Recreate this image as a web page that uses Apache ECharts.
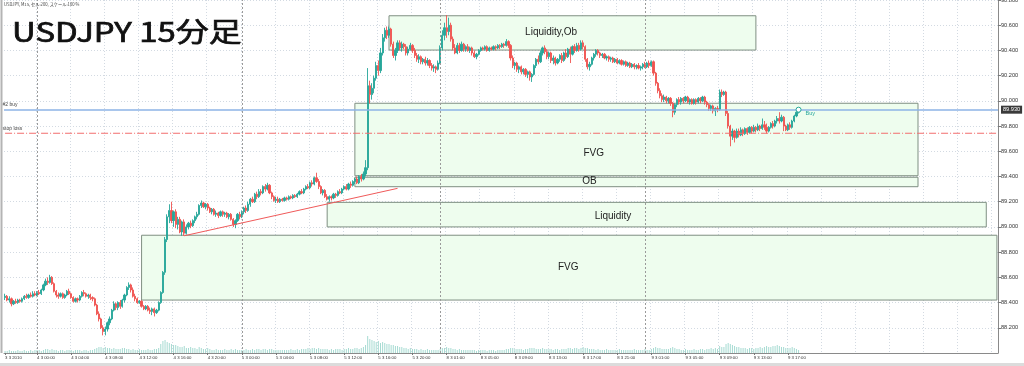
<!DOCTYPE html>
<html><head><meta charset="utf-8">
<script src="https://cdn.jsdelivr.net/npm/echarts/dist/echarts.min.js"></script>
<style>html,body{margin:0;padding:0;background:#fff}#c{width:1024px;height:366px}</style>
</head><body><div id="c"></div>
<script>
// ---- tick labels (time axis, every 16 bars from bar 15) ----
const firstLabel = '3 3 2010';
const tickLabels = ['4 3 00:00','4 3 04:00','4 3 08:00','4 3 12:00','4 3 16:00','4 3 20:00',
  '5 3 00:00','5 3 04:00','5 3 08:00','5 3 12:00','5 3 16:00','5 3 20:00',
  '8 3 01:00','8 3 05:00','8 3 09:00','8 3 13:00','8 3 17:00','8 3 21:00',
  '9 3 01:00','9 3 05:00','9 3 09:00','9 3 13:00','9 3 17:00'];
const LABEL_START = 15, LABEL_STEP = 16, N_SLOTS = 466;
const daySeparators = [15, 111, 204, 300];
const priceTicks = {min: 88.0, max: 90.8, step: 0.2};

// ---- 15-minute candles [open, close, low, high] ----
const seg1 = [
[88.44,88.45,88.42,88.47],[88.45,88.42,88.41,88.46],[88.42,88.43,88.40,88.45],[88.43,88.39,88.37,88.44],[88.39,88.41,88.38,88.42],
[88.41,88.40,88.39,88.43],[88.40,88.42,88.39,88.43],[88.42,88.41,88.40,88.43],[88.41,88.43,88.40,88.44],[88.43,88.45,88.42,88.46],
[88.45,88.44,88.43,88.47],[88.44,88.46,88.43,88.47],[88.46,88.45,88.44,88.48],[88.45,88.47,88.44,88.49],[88.47,88.46,88.45,88.49]];
const seg2 = [
[88.46,88.48,88.45,88.49],[88.48,88.47,88.46,88.50],[88.47,88.50,88.46,88.51],[88.50,88.54,88.49,88.55],[88.54,88.57,88.53,88.59],[88.57,88.56,88.54,88.60],[88.56,88.60,88.55,88.62],[88.60,88.55,88.54,88.61],[88.55,88.49,88.48,88.56],[88.49,88.46,88.44,88.50],
[88.46,88.45,88.43,88.48],[88.45,88.47,88.44,88.48],[88.47,88.44,88.43,88.48],[88.44,88.46,88.43,88.47],[88.46,88.49,88.45,88.50],[88.49,88.47,88.46,88.51],[88.47,88.44,88.43,88.48],[88.44,88.41,88.40,88.45],[88.41,88.43,88.40,88.44],[88.43,88.42,88.40,88.44],
[88.42,88.45,88.41,88.46],[88.45,88.48,88.44,88.49],[88.48,88.47,88.45,88.50],[88.47,88.45,88.44,88.48],[88.45,88.46,88.43,88.47],[88.46,88.44,88.42,88.47],[88.44,88.43,88.41,88.45],[88.43,88.38,88.37,88.44],[88.38,88.31,88.30,88.39],[88.31,88.27,88.25,88.33],
[88.27,88.20,88.19,88.28],[88.20,88.17,88.14,88.22],[88.17,88.19,88.14,88.21],[88.19,88.24,88.17,88.25],[88.24,88.27,88.22,88.29],[88.27,88.34,88.26,88.35],[88.34,88.39,88.33,88.41],[88.39,88.36,88.34,88.40],[88.36,88.40,88.34,88.41],[88.40,88.37,88.35,88.42],
[88.37,88.42,88.36,88.43],[88.42,88.46,88.40,88.47],[88.46,88.52,88.45,88.53],[88.52,88.54,88.50,88.56],[88.54,88.50,88.48,88.55],[88.50,88.45,88.44,88.52],[88.45,88.43,88.41,88.47],[88.43,88.40,88.39,88.44],[88.40,88.41,88.39,88.42],[88.41,88.37,88.36,88.42],
[88.37,88.35,88.34,88.38],[88.35,88.37,88.34,88.38],[88.37,88.34,88.33,88.38],[88.34,88.33,88.31,88.36],[88.33,88.35,88.30,88.36],[88.35,88.32,88.29,88.36],[88.32,88.34,88.31,88.35],[88.34,88.40,88.33,88.41],[88.40,88.48,88.39,88.49],[88.48,88.64,88.47,88.65],
[88.64,88.90,88.62,88.92],[88.90,89.08,88.88,89.10],[89.08,89.13,89.03,89.18],[89.13,89.05,89.03,89.20],[89.05,89.12,89.00,89.13],[89.12,89.02,88.99,89.14],[89.02,89.06,88.98,89.08],[89.06,88.96,88.95,89.08],[88.96,89.04,88.93,89.05],[89.04,88.95,88.93,89.06],
[88.95,89.00,88.94,89.02],[89.00,89.03,88.98,89.04],[89.03,89.01,88.99,89.05],[89.01,89.05,89.00,89.06],[89.05,89.08,89.03,89.09],[89.08,89.10,89.06,89.12],[89.10,89.17,89.09,89.18],[89.17,89.19,89.15,89.21],[89.19,89.16,89.15,89.20],[89.16,89.18,89.14,89.19],
[89.18,89.15,89.13,89.19],[89.15,89.12,89.11,89.16],[89.12,89.14,89.10,89.15],[89.14,89.10,89.09,89.15],[89.10,89.11,89.08,89.13],[89.11,89.09,89.07,89.12],[89.09,89.12,89.08,89.13],[89.12,89.10,89.08,89.13],[89.10,89.11,89.08,89.12],[89.11,89.08,89.07,89.12],
[89.08,89.10,89.06,89.11],[89.10,89.06,89.05,89.11],[89.06,89.02,89.00,89.07],[89.02,89.05,88.99,89.06],[89.05,89.10,89.04,89.11],[89.10,89.08,89.06,89.12]];
const seg3 = [
[89.08,89.12,89.07,89.13],[89.12,89.15,89.10,89.16],[89.15,89.13,89.11,89.17],[89.13,89.18,89.12,89.20],[89.18,89.22,89.16,89.23],[89.22,89.20,89.19,89.24],[89.20,89.26,89.19,89.27],[89.26,89.24,89.22,89.28],[89.24,89.28,89.23,89.30],[89.28,89.27,89.25,89.30],
[89.27,89.32,89.26,89.33],[89.32,89.30,89.28,89.34],[89.30,89.33,89.29,89.35],[89.33,89.27,89.26,89.34],[89.27,89.24,89.22,89.28],[89.24,89.21,89.20,89.25],[89.21,89.22,89.19,89.24],[89.22,89.20,89.19,89.24],[89.20,89.22,89.19,89.23],[89.22,89.21,89.20,89.23],
[89.21,89.23,89.20,89.24],[89.23,89.22,89.21,89.24],[89.22,89.24,89.21,89.25],[89.24,89.23,89.22,89.25],[89.23,89.25,89.22,89.26],[89.25,89.24,89.23,89.26],[89.24,89.26,89.23,89.27],[89.26,89.28,89.25,89.29],[89.28,89.27,89.26,89.30],[89.27,89.30,89.26,89.31],
[89.30,89.32,89.29,89.33],[89.32,89.31,89.30,89.34],[89.31,89.35,89.30,89.36],[89.35,89.34,89.32,89.37],[89.34,89.39,89.33,89.40],[89.39,89.36,89.35,89.43],[89.36,89.32,89.30,89.38],[89.32,89.27,89.26,89.33],[89.27,89.29,89.25,89.30],[89.29,89.24,89.23,89.30],
[89.24,89.22,89.21,89.26],[89.22,89.24,89.20,89.25],[89.24,89.23,89.21,89.25],[89.23,89.26,89.22,89.27],[89.26,89.25,89.23,89.27],[89.25,89.28,89.24,89.29],[89.28,89.27,89.26,89.30],[89.27,89.30,89.26,89.31],[89.30,89.32,89.29,89.33],[89.32,89.30,89.29,89.34],
[89.30,89.34,89.29,89.35],[89.34,89.33,89.31,89.36],[89.33,89.36,89.32,89.37],[89.36,89.38,89.34,89.39],[89.38,89.35,89.34,89.40],[89.35,89.40,89.34,89.41],[89.40,89.38,89.36,89.42],[89.38,89.42,89.37,89.44],[89.42,89.47,89.40,89.53],[89.47,90.12,89.45,90.26],
[90.12,90.05,89.98,90.16],[90.05,90.10,90.01,90.14],[90.10,90.18,90.06,90.20],[90.18,90.28,90.16,90.31],[90.28,90.24,90.20,90.32],[90.24,90.38,90.22,90.42],[90.38,90.50,90.36,90.53],[90.50,90.56,90.47,90.58],[90.56,90.52,90.49,90.59],[90.52,90.57,90.50,90.59],
[90.57,90.45,90.43,90.58],[90.45,90.36,90.34,90.47],[90.36,90.40,90.32,90.42],[90.40,90.46,90.38,90.48],[90.46,90.42,90.40,90.48],[90.42,90.45,90.39,90.47],[90.45,90.43,90.41,90.46],[90.43,90.38,90.36,90.45],[90.38,90.41,90.36,90.43],[90.41,90.44,90.40,90.46],
[90.44,90.40,90.38,90.45],[90.40,90.36,90.34,90.42],[90.36,90.33,90.31,90.38],[90.33,90.35,90.30,90.37],[90.35,90.31,90.29,90.36],[90.31,90.33,90.29,90.34],[90.33,90.30,90.28,90.35],[90.30,90.32,90.28,90.34],[90.32,90.28,90.26,90.33],[90.28,90.26,90.24,90.30],[90.26,90.27,90.23,90.29],[90.27,90.25,90.22,90.28]];
const seg4 = [
[90.25,90.30,90.24,90.32],[90.30,90.42,90.29,90.44],[90.42,90.52,90.40,90.56],[90.52,90.58,90.48,90.62],[90.58,90.55,90.50,90.68],[90.55,90.60,90.52,90.66],[90.60,90.49,90.47,90.62],[90.49,90.42,90.40,90.51],[90.42,90.38,90.37,90.45],[90.38,90.44,90.37,90.46],
[90.44,90.40,90.38,90.46],[90.40,90.45,90.39,90.47],[90.45,90.41,90.39,90.46],[90.41,90.43,90.39,90.44],[90.43,90.40,90.39,90.45],[90.40,90.42,90.38,90.43],[90.42,90.38,90.36,90.43],[90.38,90.35,90.34,90.40],[90.35,90.37,90.33,90.38],[90.37,90.40,90.36,90.41],
[90.40,90.42,90.39,90.43],[90.42,90.41,90.40,90.43],[90.41,90.43,90.40,90.44],[90.43,90.40,90.39,90.44],[90.40,90.42,90.39,90.43],[90.42,90.41,90.40,90.43],[90.41,90.43,90.40,90.44],[90.43,90.42,90.40,90.44],[90.42,90.44,90.41,90.45],[90.44,90.43,90.41,90.45],
[90.43,90.45,90.42,90.46],[90.45,90.44,90.42,90.46],[90.44,90.47,90.43,90.49],[90.47,90.44,90.42,90.48],
[90.44,90.34,90.32,90.45],[90.34,90.28,90.26,90.36],[90.28,90.30,90.25,90.31],[90.30,90.25,90.23,90.31],[90.25,90.27,90.22,90.28],[90.27,90.23,90.21,90.28],[90.23,90.25,90.21,90.26],[90.25,90.21,90.19,90.26],[90.21,90.23,90.18,90.24],[90.23,90.19,90.16,90.24],
[90.19,90.21,90.15,90.22],[90.21,90.28,90.20,90.29],[90.28,90.33,90.26,90.34],[90.33,90.31,90.29,90.36],[90.31,90.38,90.30,90.40],[90.38,90.42,90.36,90.43],[90.42,90.39,90.37,90.44],[90.39,90.35,90.33,90.41],[90.35,90.38,90.33,90.39],[90.38,90.32,90.30,90.39],
[90.32,90.34,90.29,90.36],[90.34,90.30,90.28,90.35],[90.30,90.33,90.29,90.34],[90.33,90.36,90.31,90.37],[90.36,90.32,90.30,90.38],[90.32,90.38,90.31,90.39],[90.38,90.35,90.33,90.41],[90.35,90.41,90.34,90.42],[90.41,90.37,90.30,90.43],[90.37,90.43,90.36,90.44],
[90.43,90.40,90.38,90.45],[90.40,90.44,90.39,90.46],[90.44,90.41,90.39,90.46],[90.41,90.46,90.40,90.48],[90.46,90.43,90.41,90.48],[90.43,90.33,90.31,90.44],[90.33,90.27,90.25,90.34],[90.27,90.29,90.24,90.31],[90.29,90.34,90.28,90.35],[90.34,90.37,90.32,90.38],
[90.37,90.40,90.35,90.41],[90.40,90.38,90.36,90.41],[90.38,90.36,90.34,90.39],[90.36,90.37,90.34,90.38],[90.37,90.34,90.33,90.38],[90.34,90.35,90.32,90.36],[90.35,90.33,90.31,90.36],[90.33,90.34,90.31,90.35],[90.34,90.31,90.30,90.35],[90.31,90.33,90.30,90.34],
[90.33,90.30,90.29,90.34],[90.30,90.32,90.29,90.33],[90.32,90.29,90.28,90.33],[90.29,90.31,90.28,90.32],[90.31,90.28,90.27,90.32],[90.28,90.30,90.27,90.31],[90.30,90.27,90.26,90.31],[90.27,90.29,90.26,90.30],[90.29,90.27,90.25,90.30],[90.27,90.28,90.25,90.29],[90.28,90.26,90.25,90.30],[90.26,90.27,90.24,90.28]];
const seg5 = [
[90.27,90.29,90.25,90.30],[90.29,90.27,90.26,90.31],[90.27,90.30,90.26,90.31],[90.30,90.28,90.26,90.32],[90.28,90.31,90.27,90.32],[90.31,90.22,90.20,90.32],[90.22,90.14,90.12,90.23],[90.14,90.08,90.06,90.15],[90.08,90.04,90.02,90.10],[90.04,90.01,89.99,90.06],
[90.01,90.03,89.99,90.05],[90.03,90.00,89.98,90.04],[90.00,90.02,89.98,90.03],[90.02,89.98,89.96,90.03],[89.98,89.91,89.87,89.99],[89.91,89.97,89.89,89.98],[89.97,90.01,89.95,90.02],[90.01,89.99,89.97,90.03],[89.99,90.02,89.97,90.03],[90.02,90.00,89.98,90.03],
[90.00,90.03,89.99,90.04],[90.03,89.99,89.98,90.04],[89.99,90.01,89.97,90.02],[90.01,89.98,89.97,90.02],[89.98,90.01,89.97,90.02],[90.01,89.99,89.97,90.02],[89.99,90.02,89.98,90.03],[90.02,90.00,89.98,90.03],[90.00,90.03,89.99,90.04],[90.03,89.99,89.97,90.04],
[89.99,89.97,89.95,90.00],[89.97,89.94,89.92,89.98],[89.94,89.96,89.92,89.97],[89.96,89.92,89.90,89.97],[89.92,89.94,89.88,89.95],[89.94,89.93,89.91,89.96],[89.93,90.07,89.92,90.09],[90.07,90.05,90.03,90.09],[90.05,90.07,90.04,90.08],[90.07,89.90,89.88,90.08],
[89.90,89.80,89.78,89.92],[89.80,89.72,89.64,89.81],[89.72,89.76,89.69,89.78],[89.76,89.71,89.67,89.77],[89.71,89.76,89.70,89.78],[89.76,89.73,89.71,89.78],[89.73,89.77,89.72,89.79],[89.77,89.74,89.72,89.78],[89.74,89.78,89.73,89.79],[89.78,89.75,89.73,89.79],
[89.75,89.79,89.74,89.80],[89.79,89.76,89.74,89.80],[89.76,89.79,89.75,89.81],[89.79,89.77,89.75,89.80],[89.77,89.80,89.76,89.82],[89.80,89.78,89.76,89.81],[89.78,89.81,89.77,89.86],[89.81,89.79,89.77,89.84],[89.79,89.76,89.74,89.82],[89.76,89.79,89.75,89.80],
[89.79,89.82,89.78,89.83],[89.82,89.80,89.78,89.84],[89.80,89.84,89.79,89.85],[89.84,89.86,89.82,89.88],[89.86,89.84,89.82,89.91],[89.84,89.87,89.83,89.89],[89.87,89.80,89.76,89.88],[89.80,89.77,89.76,89.81],[89.77,89.81,89.76,89.82],[89.81,89.79,89.77,89.83],[89.79,89.84,89.78,89.85],[89.84,89.88,89.83,89.89],[89.88,89.91,89.87,89.92],[89.91,89.93,89.90,89.94]];

// ---- tick volume (relative) ----
const vol1 = [2,2,3,2,2,2,3,2,2,3,2,2,3,2,3];
const vol2 = [3,3,2,3,4,4,3,4,3,3,2,3,3,2,3,3,3,2,3,3,3,2,3,3,2,3,
  3,4,5,6,6,5,6,5,5,4,5,4,4,4,5,5,4,4,3,4,
  3,3,4,3,3,3,4,3,3,4,4,5,
  9,12,13,11,10,9,8,8,
  7,6,6,7,5,5,6,5,5,4,6,5,4,4,5,
  4,3,3,4,3,3,3,4,3,3,4,3,4,3,3];
const vol3 = [3,3,4,3,3,4,3,4,4,3,4,4,3,4,4,3,3,3,3,3,
  3,3,3,4,3,3,4,3,4,4,4,5,4,5,5,4,5,4,4,4,
  4,3,4,3,4,4,4,3,4,4,5,4,4,5,5,4,5,6,8,
  17,14,13,12,11,12,10,11,10,9,9,8,8,7,7,6,
  6,5,5,4,5,4,4,4,3,4,3,3,4,3,3,3,3];
const vol4 = [3,4,5,5,6,5,5,4,4,3,4,3,3,
  3,3,3,3,3,2,3,3,3,3,2,3,3,3,2,3,3,3,3,4,4,
  5,5,4,4,4,4,3,4,4,5,5,5,4,4,4,5,4,4,4,
  4,3,4,4,3,4,4,4,5,5,4,5,5,4,5,6,5,5,4,4,
  4,3,4,3,3,3,4,3,3,3,3,3,4,3,3,3,3,3,3,4,3,3,3];
const vol5 = [3,4,3,3,4,5,6,5,5,4,4,4,4,5,6,5,4,
  4,3,3,4,3,3,3,4,3,3,4,4,3,4,4,5,4,5,4,
  7,6,6,9,10,9,8,7,6,6,5,
  5,5,4,5,5,4,5,5,6,5,6,7,6,6,7,7,8,7,6,6,5,5,5,6,5,4,3];

// ---- drawn objects (bar index, price) ----
const zones = [
  {name:'Liquidity,Ob', x1:179.7, x2:351.9, top:90.675, bottom:90.403, tx:255.5, ty:90.546},
  {name:'FVG',          x1:163.6, x2:427.5, top:89.981, bottom:89.406, tx:275.6, ty:89.586},
  {name:'OB',           x1:163.6, x2:427.5, top:89.394, bottom:89.319, tx:274.0, ty:89.364},
  {name:'Liquidity',    x1:151.4, x2:459.9, top:89.195, bottom:89.000, tx:284.6, ty:89.087},
  {name:'FVG',          x1:63.7,  x2:465.4, top:88.934, bottom:88.420, tx:263.5, ty:88.682}
];
const trendLine = [[84.4, 88.930], [183.6, 89.306]];
const buyLevel = 89.930, stopLoss = 89.743;
const buyBar = 372;

const candles = seg1.concat(seg2, seg3, seg4, seg5);
const volume = vol1.concat(vol2, vol3, vol4, vol5);
const cats = [];
for (let i = 0; i < N_SLOTS; i++) cats.push(String(i));
const lastIdx = candles.length - 1;
const isGridIdx = i => i >= LABEL_START && (i - LABEL_START) % LABEL_STEP === 0;
const isLabelIdx = i => i === 0 || (isGridIdx(i) && i <= lastIdx);
const labelFor = i => i === 0 ? firstLabel : (tickLabels[(i - LABEL_START) / LABEL_STEP] || '');

const UP = '#26a69a', DOWN = '#ef5350';
const gridLine = {color:'#d3dae2', type:[1,2], width:1};
const smallText = {fontSize:5, color:'#444', fontFamily:'Liberation Sans'};

const chart = echarts.init(document.getElementById('c'), null, {renderer:'canvas'});
chart.setOption({
  animation:false,
  backgroundColor:'#ffffff',
  grid:{left:4, right:26, top:0, bottom:13, outerBoundsMode:'none', containLabel:false},
  xAxis:{
    type:'category', data:cats, boundaryGap:true,
    axisLine:{show:true, lineStyle:{color:'#8a8a8a'}},
    axisTick:{show:true, alignWithLabel:true, interval:(i)=>isLabelIdx(i), length:2, lineStyle:{color:'#777'}},
    axisLabel:{interval:(i)=>isLabelIdx(i), formatter:(v,i)=>labelFor(i), align:'left',
      fontSize:4.3, color:'#333', margin:2.5, fontFamily:'Liberation Sans', hideOverlap:false},
    splitLine:{show:true, interval:(i)=>isGridIdx(i), lineStyle:gridLine}
  },
  yAxis:[{
    type:'value', position:'right', min:priceTicks.min, max:priceTicks.max, interval:priceTicks.step,
    axisLine:{show:true, lineStyle:{color:'#8a8a8a'}},
    axisTick:{show:true, length:3, lineStyle:{color:'#777'}},
    axisLabel:{fontSize:5.6, color:'#333', margin:3, fontFamily:'Liberation Sans',
      showMinLabel:false, formatter:(v)=>v.toFixed(3)},
    splitLine:{show:true, lineStyle:gridLine}
  },{
    type:'value', min:0, max:353, show:false
  }],
  series:[{
    type:'bar', name:'volume', xAxisIndex:0, yAxisIndex:1, data:volume,
    barWidth:1, itemStyle:{color:'#a6dbd2'}, silent:true, z:1
  },{
    type:'line', name:'stop loss', xAxisIndex:0, yAxisIndex:0, silent:true, z:4,
    data:[[0, stopLoss], [N_SLOTS - 1, stopLoss]],
    showSymbol:false, symbol:'none',
    lineStyle:{color:'#f26d6d', width:1, type:[7,2,1,2]},
    endLabel:{show:false}
  },{
    type:'candlestick', name:'USDJPY', data:candles, barWidth:1.7, z:3,
    itemStyle:{color:UP, color0:DOWN, borderColor:UP, borderColor0:DOWN, borderWidth:0.9},
    markArea:{
      silent:true,
      itemStyle:{color:'#eefdee', borderColor:'#7f8f82', borderWidth:1},
      label:{show:false},
      data:zones.map(z => [{xAxis:z.x1, yAxis:z.top}, {xAxis:z.x2, yAxis:z.bottom}])
    },
    markLine:{
      silent:true, symbol:'none', animation:false,
      data:[
        ...daySeparators.map(d => ({xAxis:d, lineStyle:{color:'#9a9a9a', type:[2,2], width:1}, label:{show:false}})),
        {yAxis:buyLevel, lineStyle:{color:'#8db3e6', width:1.5, type:'solid'},
          label:{show:true, position:'end', formatter:buyLevel.toFixed(3), backgroundColor:'#3a3a3a', color:'#fff',
            fontSize:5.6, padding:[1,2], distance:3, fontFamily:'Liberation Sans'}},
        [{coord:trendLine[0], lineStyle:{color:'#f05a5a', width:1, type:'solid'}, label:{show:false}}, {coord:trendLine[1]}]
      ]
    },
    markPoint:{
      silent:true,
      data:[
        ...zones.map(z => ({coord:[z.tx, z.ty], symbol:'circle', symbolSize:1, itemStyle:{color:'rgba(0,0,0,0)'},
          label:{show:true, position:'inside', formatter:z.name, fontSize:10, color:'#222', fontFamily:'Liberation Sans'}})),
        {coord:[0, buyLevel], symbol:'circle', symbolSize:1, itemStyle:{color:'rgba(0,0,0,0)'},
          label:{show:true, position:[-2,-7], align:'left', formatter:'#2 buy', ...smallText}},
        {coord:[0, stopLoss], symbol:'circle', symbolSize:1, itemStyle:{color:'rgba(0,0,0,0)'},
          label:{show:true, position:[-2,-7], align:'left', formatter:'stop loss', ...smallText}},
        {coord:[buyBar, buyLevel], symbol:'circle', symbolSize:5, itemStyle:{color:'#ffffff', borderColor:UP, borderWidth:1},
          label:{show:true, position:'right', offset:[-1,4], formatter:'Buy', fontSize:5.5, color:UP, fontFamily:'Liberation Sans'}}
      ]
    }
  }],
  graphic:[
    {type:'rect', shape:{x:0.5, y:0, width:2, height:353}, style:{fill:'#b4b4b4'}, z:100},
    {type:'rect', shape:{x:0, y:363, width:1024, height:3}, style:{fill:'#dcdcdc'}, z:100},
    {type:'text', x:4, y:2, style:{text:'USDJPY, M15, セル:200, スケール:100 %', font:'4.2px "Noto Sans CJK JP"', fill:'#444'}, z:100},
    {type:'text', x:12, y:32, scaleX:1.22, style:{text:'USDJPY 15分足', font:'27px "Noto Sans CJK JP"', fill:'#111',
      stroke:'#111', lineWidth:0.7, verticalAlign:'middle'}, z:100}
  ]
});
</script>
</body></html>
